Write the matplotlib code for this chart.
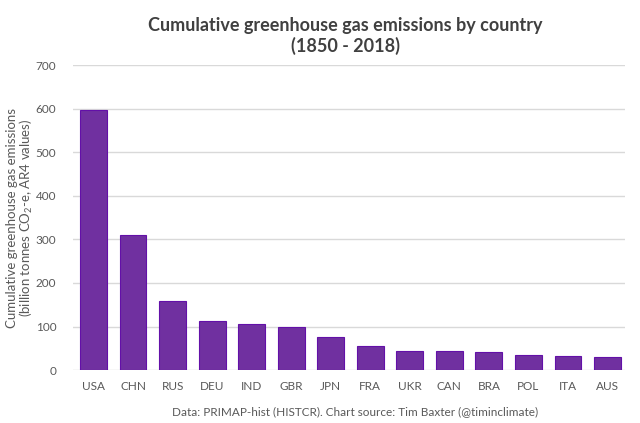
import matplotlib
matplotlib.use("Agg")
import matplotlib.pyplot as plt

countries = ["USA", "CHN", "RUS", "DEU", "IND", "GBR", "JPN",
             "FRA", "UKR", "CAN", "BRA", "POL", "ITA", "AUS"]
emissions = [598, 311, 159, 112, 107, 98, 77, 55, 45, 44.5, 42, 35, 32, 30]
yticks = [0, 100, 200, 300, 400, 500, 600, 700]

plt.rcParams['font.family'] = ['Lato', 'DejaVu Sans']
plt.rcParams['mathtext.fontset'] = 'custom'
plt.rcParams['mathtext.rm'] = 'Lato'
plt.rcParams['mathtext.it'] = 'Lato:italic'

grey = "#595959"

fig = plt.figure(figsize=(6.4, 4.23), dpi=100)
ax = fig.add_axes([0.114, 0.125, 0.863, 0.721])

ax.bar(range(len(countries)), emissions, width=0.68,
       color="#7030A0", edgecolor="#6310A8", linewidth=0.8, zorder=3)

ax.set_ylim(0, 700)
ax.set_xlim(-0.52, 13.45)
ax.set_yticks(yticks)
ax.set_xticks(range(len(countries)))
ax.set_xticklabels(countries)
ax.yaxis.grid(True, color="#D9D9D9", linewidth=1, zorder=0)
ax.tick_params(length=0, colors=grey, labelsize=8.5)
ax.tick_params(axis='y', pad=12)
ax.tick_params(axis='x', pad=8)
for s in ax.spines.values():
    s.set_visible(False)

ax.set_ylabel("Cumulative greenhouse gas emissions\n(billion tonnes CO$_2$-e, AR4 values)",
              color=grey, fontsize=9.5, linespacing=1.05)
ax.yaxis.set_label_coords(-0.068, 0.5)

fig.text(0.54, 0.915, "Cumulative greenhouse gas emissions by country\n(1850 - 2018)",
         ha="center", va="center", fontsize=13, fontweight="bold",
         color="#404040", linespacing=1.2)
fig.text(0.555, 0.028, "Data: PRIMAP-hist (HISTCR). Chart source: Tim Baxter (@timinclimate)",
         ha="center", va="center", fontsize=8.5, color=grey)

fig.savefig("out.png", dpi=100)
